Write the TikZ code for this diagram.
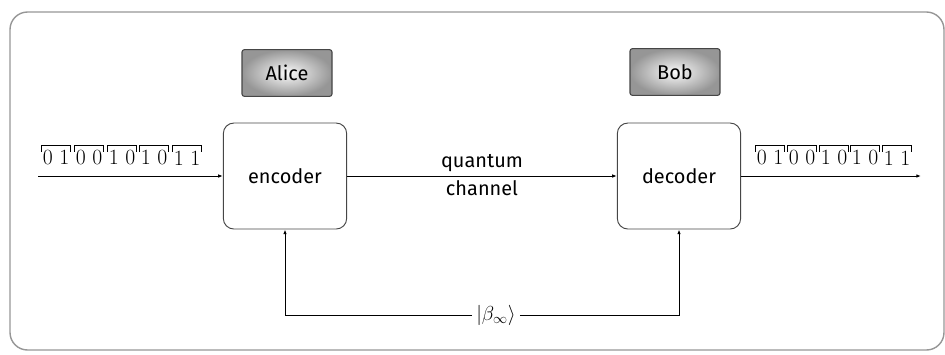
\documentclass[tikz,border=0pt]{standalone}
\usepackage{fontspec}
\usetikzlibrary{arrows.meta}
\newfontfamily\labelfont{Fira Sans}
\definecolor{framegray}{RGB}{150, 150, 150}
\definecolor{boxedge}{RGB}{70, 70, 70}
\definecolor{shadeout}{RGB}{150, 150, 150}
\definecolor{shadein}{RGB}{250, 250, 250}

\tikzset{
	namebox/.style={draw=boxedge, line width=0.9pt, rounded corners=2pt, shading=radial, inner color=shadein, outer color=shadeout, minimum width=2.7cm, minimum height=1.4cm, font=\labelfont\fontsize{17}{20}\selectfont},
	unitbox/.style={draw=boxedge, line width=0.8pt, rounded corners=9pt, minimum width=3.7cm, minimum height=3.18cm, font=\labelfont\fontsize{17}{20}\selectfont},
	bitpair/.style={inner xsep=0.5pt, inner ysep=4pt, font=\fontsize{18.5}{20}\selectfont},
	bracket/.style={draw=black, line width=0.8pt},
	wire/.style={line width=0.8pt, -{Latex[length=4pt, width=3pt]}},
}

\begin{document}
\begin{tikzpicture}[x=0.03cm, y=-0.03cm]
			\useasboundingbox (0, 0) rectangle (945, 354);
			\draw [framegray, line width=1.2pt, rounded corners=15pt] (10, 12) rectangle (944, 350);

			\node [namebox] (alice) at (287, 73) {Alice};
			\node [namebox] (bob) at (675, 72) {Bob};

			\node [unitbox] (enc) at (285, 176) {encoder};
			\node [unitbox] (dec) at (679, 176) {decoder};

			\coordinate (in) at (38, 176);
			\coordinate (out) at (921, 176);
			\node [font=\fontsize{18}{20}\selectfont] (beta) at (496, 315) {$|\beta_\infty\rangle$};

			\node [bitpair] (l1) at (56, 158) {0 1};
			\node [bitpair] (l2) at (89, 158) {0 0};
			\node [bitpair] (l3) at (122, 158) {1 0};
			\node [bitpair] (l4) at (154, 158) {1 0};
			\node [bitpair] (l5) at (187, 158) {1 1};
			\node [bitpair] (r1) at (770, 158) {0 1};
			\node [bitpair] (r2) at (802, 158) {0 0};
			\node [bitpair] (r3) at (834, 158) {1 0};
			\node [bitpair] (r4) at (865, 158) {1 0};
			\node [bitpair] (r5) at (897, 158) {1 1};

			\draw [bracket] ([yshift=-5pt]l1.north west) |- (l1.north east) -- ++(0, -5pt);
			\draw [bracket] ([yshift=-5pt]l2.north west) |- (l2.north east) -- ++(0, -5pt);
			\draw [bracket] ([yshift=-5pt]l3.north west) |- (l3.north east) -- ++(0, -5pt);
			\draw [bracket] ([yshift=-5pt]l4.north west) |- (l4.north east) -- ++(0, -5pt);
			\draw [bracket] ([yshift=-5pt]l5.north west) |- (l5.north east) -- ++(0, -5pt);
			\draw [bracket] ([yshift=-5pt]r1.north west) |- (r1.north east) -- ++(0, -5pt);
			\draw [bracket] ([yshift=-5pt]r2.north west) |- (r2.north east) -- ++(0, -5pt);
			\draw [bracket] ([yshift=-5pt]r3.north west) |- (r3.north east) -- ++(0, -5pt);
			\draw [bracket] ([yshift=-5pt]r4.north west) |- (r4.north east) -- ++(0, -5pt);
			\draw [bracket] ([yshift=-5pt]r5.north west) |- (r5.north east) -- ++(0, -5pt);

			\draw [wire] (in) -- (enc);
			\draw [wire] (enc) -- (dec)
				node [midway, above, font=\labelfont\fontsize{17}{20}\selectfont] (chtop) {quantum}
				node [midway, below, font=\labelfont\fontsize{17}{20}\selectfont] (chbot) {channel};
			\draw [wire] (dec) -- (out);
			\draw [wire] (beta) -| (enc);
			\draw [wire] (beta) -| (dec);
		\end{tikzpicture}
\end{document}
